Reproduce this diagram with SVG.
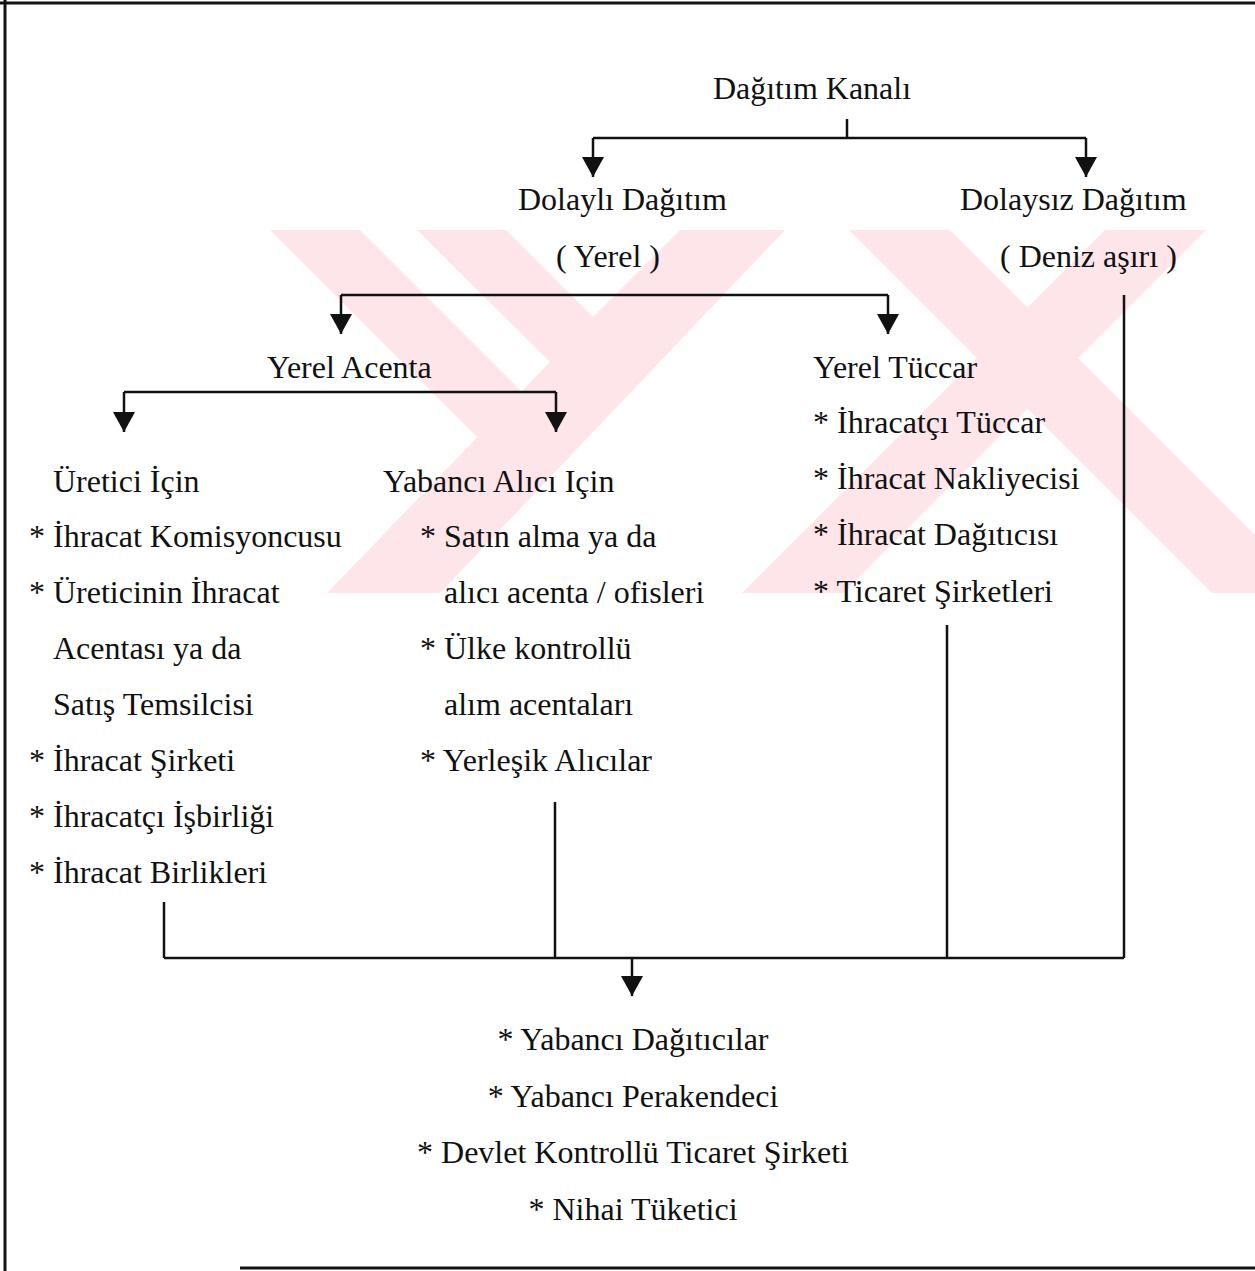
<svg xmlns="http://www.w3.org/2000/svg" width="1255" height="1271" viewBox="0 0 1255 1271">
<style>
text{font-family:"Liberation Serif","Times New Roman",serif;font-size:32px;fill:#111}
.c{text-anchor:middle}
.ln{stroke:#111;stroke-width:2.5;fill:none}
.fr{stroke:#111;stroke-width:3;fill:none}
.wm{fill:#fde5ea;stroke:none}
</style>
<defs>
<marker id="ah" markerUnits="userSpaceOnUse" markerWidth="20" markerHeight="22" refX="20" refY="11" orient="auto" viewBox="0 0 20 22">
<path d="M0,0 L20,11 L0,22 Z" fill="#111"/>
</marker>
<clipPath id="wmclip"><rect x="0" y="230" width="1255" height="363"/></clipPath>
</defs>
<rect width="1255" height="1271" fill="#fff"/>
<g id="watermark" clip-path="url(#wmclip)">
<polygon class="wm" points="270,230 360,230 522,392 478,438"/>
<polygon class="wm" points="417,230 506,230 593,317 680,230 785,230 440,593 327,593 550,362"/>
<polygon class="wm" points="849,230 950,230 1313,593 1212,593"/>
<polygon class="wm" points="1105,230 1206,230 843,593 742,593"/>
</g>
<g id="frame">
<line class="fr" x1="0" y1="3" x2="1255" y2="3"/>
<line class="fr" x1="5" y1="0" x2="5" y2="1271"/>
<line class="fr" x1="240" y1="1268" x2="1255" y2="1268"/>
</g>
<g id="connectors">
<line class="ln" x1="847" y1="119" x2="847" y2="138"/>
<line class="ln" x1="593" y1="138" x2="1086" y2="138"/>
<line class="ln" x1="593" y1="138" x2="593" y2="177" marker-end="url(#ah)"/>
<line class="ln" x1="1086" y1="138" x2="1086" y2="177" marker-end="url(#ah)"/>
<line class="ln" x1="341" y1="295" x2="888" y2="295"/>
<line class="ln" x1="341" y1="295" x2="341" y2="334" marker-end="url(#ah)"/>
<line class="ln" x1="888" y1="295" x2="888" y2="334" marker-end="url(#ah)"/>
<line class="ln" x1="124" y1="392" x2="556" y2="392"/>
<line class="ln" x1="124" y1="392" x2="124" y2="432" marker-end="url(#ah)"/>
<line class="ln" x1="556" y1="392" x2="556" y2="432" marker-end="url(#ah)"/>
<line class="ln" x1="1124" y1="295" x2="1124" y2="958"/>
<line class="ln" x1="947" y1="625" x2="947" y2="958"/>
<line class="ln" x1="555" y1="802" x2="555" y2="958"/>
<line class="ln" x1="164" y1="902" x2="164" y2="958"/>
<line class="ln" x1="164" y1="958" x2="1124" y2="958"/>
<line class="ln" x1="632" y1="958" x2="632" y2="996" marker-end="url(#ah)"/>
</g>
<g id="n-kanal"><text class="c" x="812" y="99">Dağıtım Kanalı</text></g>
<g id="n-dolayli"><text x="518" y="210">Dolaylı Dağıtım</text><text x="556" y="267">( Yerel )</text></g>
<g id="n-dolaysiz"><text x="960" y="210">Dolaysız Dağıtım</text><text x="1000" y="267">( Deniz aşırı )</text></g>
<g id="n-acenta"><text x="267" y="378">Yerel Acenta</text></g>
<g id="n-tuccar">
<text x="813" y="378">Yerel Tüccar</text>
<text x="813" y="433">* İhracatçı Tüccar</text>
<text x="813" y="489">* İhracat Nakliyecisi</text>
<text x="813" y="545">* İhracat Dağıtıcısı</text>
<text x="813" y="602">* Ticaret Şirketleri</text>
</g>
<g id="n-uretici">
<text x="53" y="492">Üretici İçin</text>
<text x="29" y="547">* İhracat Komisyoncusu</text>
<text x="29" y="603">* Üreticinin İhracat</text>
<text x="53" y="659">Acentası ya da</text>
<text x="53" y="715">Satış Temsilcisi</text>
<text x="29" y="771">* İhracat Şirketi</text>
<text x="29" y="827">* İhracatçı İşbirliği</text>
<text x="29" y="883">* İhracat Birlikleri</text>
</g>
<g id="n-yabanci">
<text x="383" y="492">Yabancı Alıcı Için</text>
<text x="420" y="547">* Satın alma ya da</text>
<text x="444" y="603">alıcı acenta / ofisleri</text>
<text x="420" y="659">* Ülke kontrollü</text>
<text x="444" y="715">alım acentaları</text>
<text x="420" y="771">* Yerleşik Alıcılar</text>
</g>
<g id="n-hedef">
<text class="c" x="633" y="1050">* Yabancı Dağıtıcılar</text>
<text class="c" x="633" y="1107">* Yabancı Perakendeci</text>
<text class="c" x="633" y="1163">* Devlet Kontrollü Ticaret Şirketi</text>
<text class="c" x="633" y="1220">* Nihai Tüketici</text>
</g>
</svg>
